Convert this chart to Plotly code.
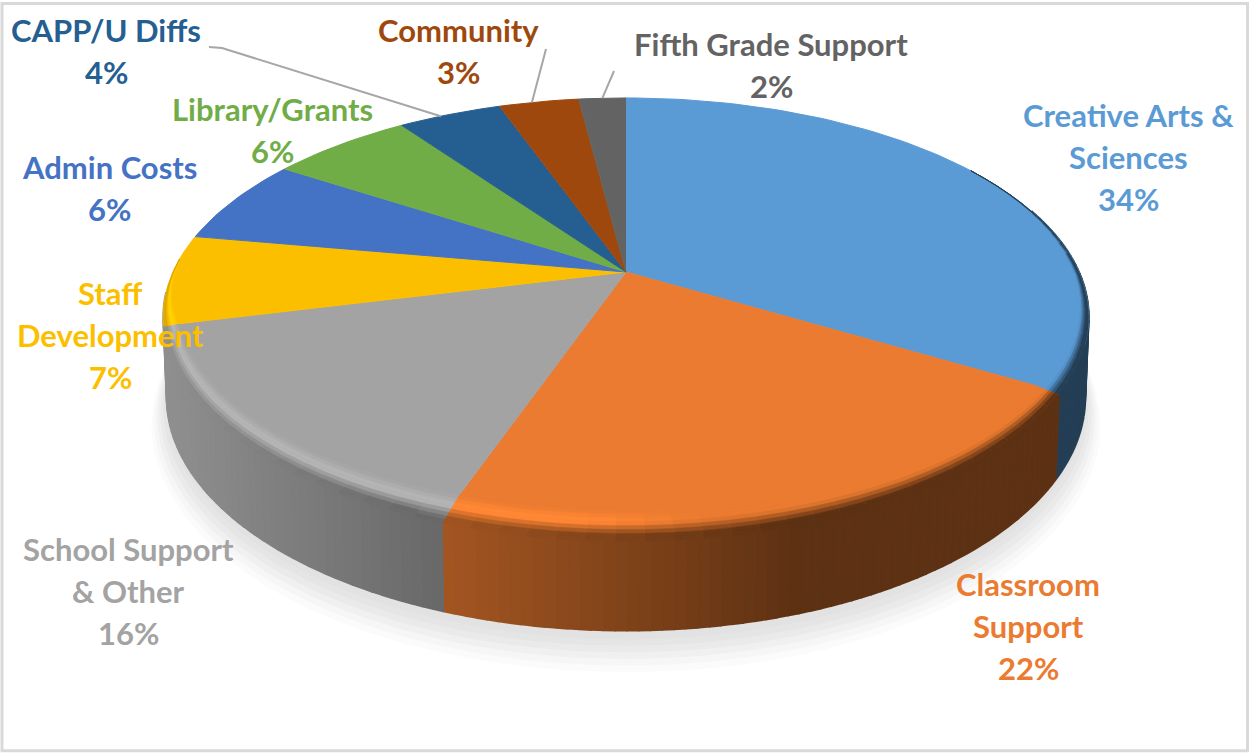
import math
import plotly.graph_objects as go

# values (the labels show them rounded)
categories = ["Creative Arts & Sciences", "Classroom Support", "School Support & Other",
              "Staff Development", "Admin Costs", "Library/Grants", "CAPP/U Diffs",
              "Community", "Fifth Grade Support"]
values = [33.6, 21.7, 15.8, 6.7, 6.4, 6.0, 4.4, 3.4, 2.0]
colors = ["#5B9BD5", "#EA7B30", "#A3A3A3", "#FCBF00", "#4472C4", "#70AD47", "#255E91", "#9E480E", "#636363"]

# label lines, centre x, first line y
label_lines = [["Creative Arts &", "Sciences"], ["Classroom", "Support"], ["School Support", "& Other"],
               ["Staff", "Development"], ["Admin Costs"], ["Library/Grants"], ["CAPP/U Diffs"],
               ["Community"], ["Fifth Grade Support"]]
label_x = [1128, 1028, 128, 110, 109, 272, 106, 458, 771]
label_y = [115, 584, 549, 293, 167, 109, 30, 30, 44]
LINE_GAP = 42

# perspective of the disc
CX, CY, RX, RY, K = 626, 272, 453, 209.5, 0.2036
DEPTH = 78


def project(frac, s=1.0, drop=0.0):
    a = 2 * math.pi * frac
    u, v = s * math.sin(a), s * math.cos(a)
    w = 1 + K * v
    return CX + RX * u / w, CY - RY * v / w + drop / w


def mix(c, f):
    r, g, b = int(c[1:3], 16), int(c[3:5], 16), int(c[5:7], 16)
    return "rgb(%d,%d,%d)" % (min(255, r * f), min(255, g * f), min(255, b * f))


def side_shade(x):
    # side gets darker from left to right, flat past x=800
    if x <= 170:
        return 0.88
    if x <= 445:
        return 0.88 - (x - 170) / 275 * 0.24
    if x <= 800:
        return 0.70 - (x - 445) / 355 * 0.30
    return 0.40


def bevel_shade(x, l):
    h = 1.14 if x < 600 else max(1.0, 1.14 - (x - 600) / 120 * 0.14)
    if l < 0.4:
        return 1 + (h - 1) * l / 0.4
    t = min(1.0, (l - 0.4) / 0.4)
    return h + (side_shade(x) - h) * t


def poly(fig, pts, color, width=1.0):
    fig.add_trace(go.Scatter(x=[p[0] for p in pts], y=[p[1] for p in pts], mode="lines",
                             fill="toself", fillcolor=color, line=dict(color=color, width=width),
                             hoverinfo="skip", showlegend=False))


fig = go.Figure()

# soft shadow under the disc
shadow_cols = ["#fbfbfb", "#f6f6f6", "#f0f0f0", "#eaeaea", "#e5e5e5", "#e2e2e2"]
for i, col in enumerate(shadow_cols):
    off = 24 - i * 3.5
    poly(fig, [project(t / 180, s=0.993 + (5 - i) * 0.006, drop=DEPTH + off) for t in range(181)], col)

starts = [sum(values[:i]) / 100 for i in range(len(values))]
ends = [sum(values[:i + 1]) / 100 for i in range(len(values))]

# side wall, thin strips from back to front
for c, a, b in zip(colors, starts, ends):
    a2, b2 = max(a, 0.2), b
    if a2 >= 0.71 or b2 <= a2:
        continue  # nothing of the staff slice shows, grey wall wraps round the left end
    if b2 > 0.7:
        b2 = 0.735
    n = max(1, int((b2 - a2) * 300))
    for j in range(n):
        f0 = a2 + (b2 - a2) * j / n
        f1 = a2 + (b2 - a2) * (j + 1) / n
        p0, p1 = project(f0), project(f1)
        q0, q1 = project(f0, s=0.993, drop=DEPTH), project(f1, s=0.993, drop=DEPTH)
        poly(fig, [p0, p1, q1, q0], mix(c, side_shade((p0[0] + p1[0]) / 2)), width=2)

# top face
for c, a, b in zip(colors, starts, ends):
    n = max(4, int((b - a) * 240))
    pts = [(CX, CY)] + [project(a + (b - a) * j / n) for j in range(n + 1)]
    poly(fig, pts, c)


def rim_point(f, l):
    # band runs along the ray from the apex, so slice edges stay straight;
    # it narrows to nothing at both ends of the visible rim
    fade = min(1.0, (f - 0.16) / 0.08, (0.76 - f) / 0.05)
    front = max(0.0, -math.cos(2 * math.pi * f))
    s = 1 - (1 - l) * fade * (0.016 + 0.06 * front)
    return project(f, s=s, drop=5 * l * fade * front)


# rounded rim on the front half
levels = 8
for c, a, b in zip(colors, starts, ends):
    a2, b2 = max(a, 0.16), min(b, 0.76)
    if b2 <= a2:
        continue
    n = max(1, int((b2 - a2) * 120))
    for lv in range(levels):
        l0, l1 = lv / levels, (lv + 1) / levels
        for j in range(n):
            f0 = a2 + (b2 - a2) * j / n
            f1 = a2 + (b2 - a2) * (j + 1) / n
            pts = [rim_point(f0, l0), rim_point(f1, l0), rim_point(f1, l1), rim_point(f0, l1)]
            poly(fig, pts, mix(c, bevel_shade(pts[0][0], (l0 + l1) / 2)), width=0.5)

# leader lines
leader_from = [[(209, 47), (222, 48)], [(546, 49)], [(614, 71)]]
leader_at = [0.92, 0.96, 0.99]
for start, at in zip(leader_from, leader_at):
    pts = start + [project(at)]
    fig.add_trace(go.Scatter(x=[p[0] for p in pts], y=[p[1] for p in pts], mode="lines",
                             line=dict(color="#A6A6A6", width=2), hoverinfo="skip", showlegend=False))

# labels
for lines, val, x, y, c in zip(label_lines, values, label_x, label_y, colors):
    for i, txt in enumerate(lines + ["%d%%" % round(val)]):
        fig.add_annotation(x=x, y=y + i * LINE_GAP, text=txt, showarrow=False, xanchor="center", yanchor="middle",
                           font=dict(family="Lato", size=31, color=c, weight="bold"))

fig.update_xaxes(visible=False, range=[0, 1249], fixedrange=True)
fig.update_yaxes(visible=False, range=[753, 0], fixedrange=True)

# thin grey frame of the screenshot
fig.add_shape(type="rect", xref="paper", yref="paper", x0=0.0016, y0=0.003, x1=0.9988, y1=0.9955,
              line=dict(color="#D9D9D9", width=3), layer="below")

fig.update_layout(width=1249, height=753, margin=dict(l=0, r=0, t=0, b=0),
                  paper_bgcolor="white", plot_bgcolor="white", showlegend=False)

fig.write_html("out.html", config={"displayModeBar": False},
               post_script="document.body.style.margin='0';document.body.style.overflow='hidden';")
